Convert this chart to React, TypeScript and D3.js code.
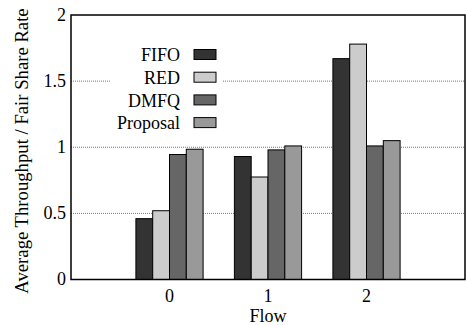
import React from 'react';
import * as d3 from 'd3';

const flows = [0, 1, 2];
const seriesNames = ['FIFO', 'RED', 'DMFQ', 'Proposal'];
const seriesColors = ['#333333', '#cccccc', '#666666', '#999999'];
const fifo = [0.46, 0.93, 1.67];
const red = [0.52, 0.775, 1.78];
const dmfq = [0.945, 0.98, 1.01];
const proposal = [0.985, 1.01, 1.05];
const yTicks = [0, 0.5, 1, 1.5, 2];

const width = 466;
const height = 325;
const m = { left: 71, right: 465, top: 15, bottom: 279.5 };
const fontFam = '"Liberation Serif", "Times New Roman", Tinos';

const x = d3.scaleLinear().domain([-1, 3]).range([m.left, m.right]);
const y = d3.scaleLinear().domain([0, 2]).range([m.bottom, m.top]);
const barW = 16.8;

const App = () => {
  const series = [fifo, red, dmfq, proposal];
  return (
    <svg width={width} height={height} fontFamily={fontFam} fontSize={18}
      style={{ position: 'absolute', left: 0, top: 0, fontFamily: fontFam }}>
      {/* grid */}
      {yTicks.filter(t => t > 0 && t < 2).map(t => (
        <line key={t} x1={m.left} x2={m.right} y1={y(t)} y2={y(t)}
          stroke="#777" strokeWidth={1} strokeDasharray="1,1" />
      ))}
      {/* legend background blanks the grid */}
      <rect x={110} y={40} width={112} height={92} fill="#fff" />
      {/* bars */}
      {series.map((vals, si) => (
        <g key={si}>
          {vals.map((v, i) => (
            <rect key={i} x={x(flows[i]) + (si - 2) * barW} y={y(v)}
              width={barW} height={y(0) - y(v)}
              fill={seriesColors[si]} stroke="#000" strokeWidth={1} />
          ))}
        </g>
      ))}
      {/* frame */}
      <rect x={m.left} y={m.top} width={m.right - m.left} height={m.bottom - m.top}
        fill="none" stroke="#000" strokeWidth={1.5} />
      {/* y tick labels */}
      {yTicks.map(t => (
        <text key={t} x={66} y={y(t)} dy="0.32em" textAnchor="end">{String(t)}</text>
      ))}
      {/* x tick labels */}
      {flows.map(f => (
        <text key={f} x={x(f)} y={302} textAnchor="middle">{String(f)}</text>
      ))}
      <text x={x(1)} y={322} textAnchor="middle">Flow</text>
      <text transform="translate(28, 151) rotate(-90)" textAnchor="middle" fontSize={18.7}>
        Average Throughput / Fair Share Rate
      </text>
      {/* legend */}
      {seriesNames.map((name, i) => (
        <g key={name} transform={`translate(0, ${54.5 + i * 22.7})`}>
          <text x={180} dy="0.38em" textAnchor="end">{name}</text>
          <rect x={194} y={-5} width={22} height={10} fill={seriesColors[i]} stroke="#000" strokeWidth={1} />
        </g>
      ))}
    </svg>
  );
};

export default App;
